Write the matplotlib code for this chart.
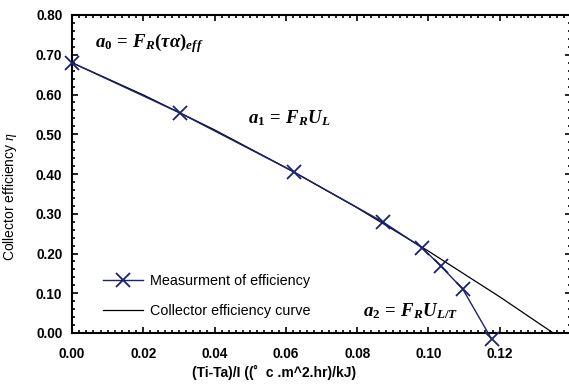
import matplotlib
matplotlib.use("Agg")
import matplotlib.pyplot as plt
from matplotlib.ticker import MultipleLocator

plt.rcParams['font.family'] = ['Liberation Sans', 'DejaVu Sans']
plt.rcParams['mathtext.fontset'] = 'custom'
plt.rcParams['mathtext.it'] = 'Liberation Serif:italic:bold'
plt.rcParams['mathtext.rm'] = 'Liberation Serif:bold'
plt.rcParams['mathtext.bf'] = 'Liberation Serif:bold'
plt.rcParams['mathtext.sf'] = 'Liberation Serif:italic'

# Measured points
meas_x = [0.0, 0.0304, 0.0623, 0.0873, 0.0983, 0.1034, 0.1096, 0.1177]
meas_y = [0.680, 0.553, 0.405, 0.279, 0.214, 0.169, 0.111, -0.015]

# Collector efficiency curve
curve_x = [0.0, 0.02, 0.04, 0.06, 0.08, 0.10, 0.12, 0.135]
curve_y = [0.680, 0.599, 0.511, 0.416, 0.315, 0.206, 0.091, 0.0]

xticks = [0.00, 0.02, 0.04, 0.06, 0.08, 0.10, 0.12]
yticks = [0.0, 0.1, 0.2, 0.3, 0.4, 0.5, 0.6, 0.7, 0.8]

fig = plt.figure(figsize=(5.69, 3.87), dpi=100)
ax = fig.add_axes([72/569, 1-333/387, 499/569, 318/387])

ax.plot(meas_x, meas_y, color='#1c2270', lw=1.0, marker='x', ms=10, mew=1.3,
        label='Measurment of efficiency', zorder=3, clip_on=False)
ax.plot(curve_x, curve_y, color='black', lw=0.9, label='Collector efficiency curve', zorder=2)

ax.set_xlim(0, 0.14)
ax.set_ylim(0, 0.8)
ax.set_xticks(xticks)
ax.set_yticks(yticks)
ax.set_xticklabels([f'{v:.2f}' for v in xticks])
ax.set_yticklabels([f'{v:.2f}' for v in yticks])
ax.xaxis.set_minor_locator(MultipleLocator(0.002))
ax.yaxis.set_minor_locator(MultipleLocator(0.02))
ax.tick_params(which='both', direction='in', top=True, right=True, width=1.2)
ax.tick_params(which='major', length=4, labelsize=9.8)
ax.tick_params(axis='x', which='major', pad=10)
ax.tick_params(axis='y', which='major', pad=7)
ax.tick_params(which='minor', length=2.5)
for lbl in ax.get_xticklabels() + ax.get_yticklabels():
    lbl.set_fontweight('bold')
for s in ['left', 'bottom', 'top']:
    ax.spines[s].set_linewidth(1.5)
ax.spines['right'].set_visible(False)

ax.set_xlabel('(Ti-Ta)/I ((˚  c .m^2.hr)/kJ)', fontsize=10, fontweight='bold')
ax.xaxis.set_label_coords(0.404, -0.1)
ax.set_ylabel(r'Collector efficiency $\mathsf{\eta}$', fontsize=10)
ax.yaxis.set_label_coords(-0.106, 0.43)

ax.text(0.046, 0.912, r'$a_0\,=\,F_R(\tau\alpha)_{eff}$', transform=ax.transAxes,
        fontsize=13.5, va='center', ha='left')
ax.text(0.353, 0.676, r'$a_1\,=\,F_RU_L$', transform=ax.transAxes,
        fontsize=13.5, va='center', ha='left')
ax.text(0.583, 0.069, r'$a_2\,=\,F_RU_{L/T}$', transform=ax.transAxes,
        fontsize=13.5, va='center', ha='left')

ax.legend(loc='upper left', bbox_to_anchor=(0.05, 0.205), frameon=False,
          fontsize=10.4, handlelength=2.8, handletextpad=0.45, labelspacing=1.15,
          borderaxespad=0)

fig.savefig('out.png', dpi=100)
